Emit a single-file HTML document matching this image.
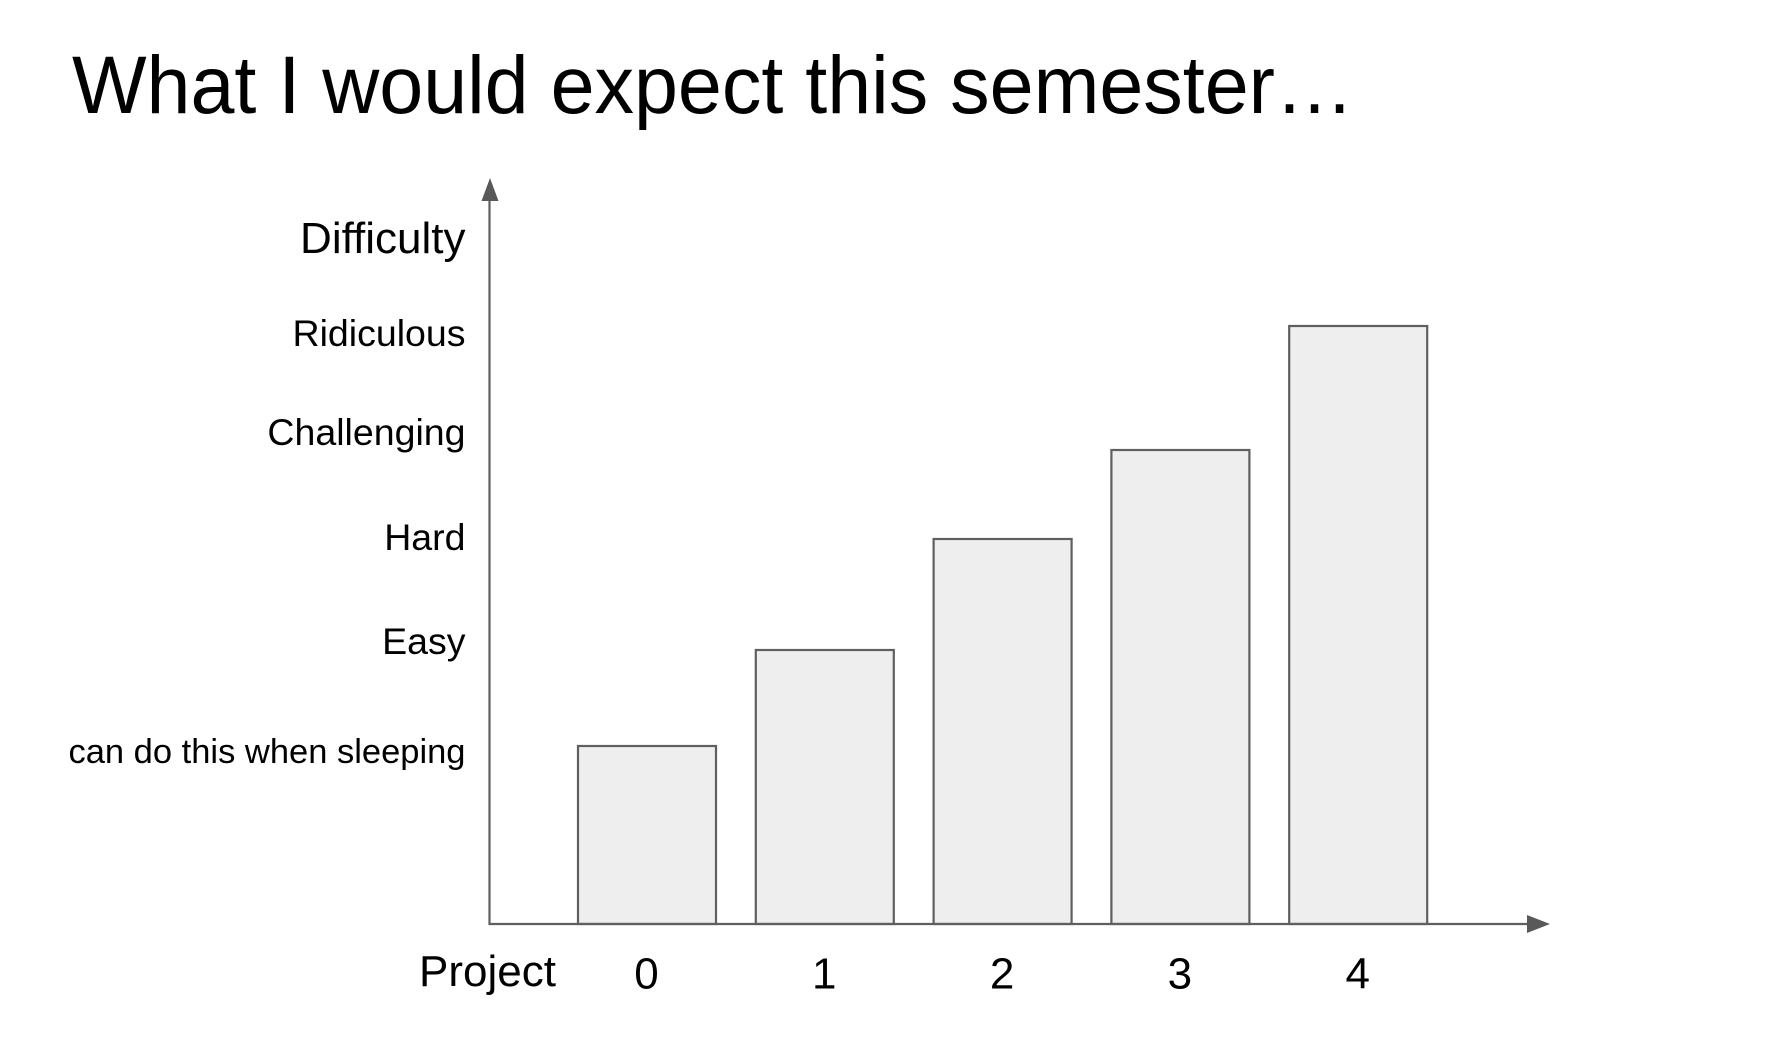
<!DOCTYPE html>
<html lang="en">
<head>
<meta charset="utf-8">
<title>What I would expect this semester…</title>
<style>
  html, body { margin: 0; padding: 0; background: #ffffff; }
  body { width: 1780px; height: 1038px; overflow: hidden; }
  svg { display: block; font-family: "Liberation Sans", Arial, sans-serif; }
  text { fill: #000000; }
</style>
</head>
<body>
<svg id="chart" width="1780" height="1038" viewBox="0 0 1780 1038" xmlns="http://www.w3.org/2000/svg">
  <text x="72" y="113" font-size="82" textLength="1282" lengthAdjust="spacingAndGlyphs">What I would expect this semester…</text>
  <text x="465.5" y="253" font-size="44" text-anchor="end">Difficulty</text>
  <text x="419" y="986" font-size="44">Project</text>
  <g id="bars"></g>
  <g id="axes">
    <line x1="489.5" y1="200" x2="489.5" y2="925" stroke="#5f5f5f" stroke-width="2.2"/>
    <polygon points="490,178 481.5,201 498.5,201" fill="#595959"/>
    <line x1="488.5" y1="924" x2="1530" y2="924" stroke="#5f5f5f" stroke-width="2.2"/>
    <polygon points="1550,924 1527,915 1527,933" fill="#595959"/>
  </g>
  <g id="y-labels"></g>
  <g id="x-labels"></g>
</svg>
<script>
const categories = ["0", "1", "2", "3", "4"];
const difficulty = [1.78, 2.74, 3.85, 4.74, 5.98];
const levelLabels = ["can do this when sleeping", "Easy", "Hard", "Challenging", "Ridiculous"];
const levelValues = [1.61, 2.70, 3.74, 4.79, 5.78];

const SVG_NS = "http://www.w3.org/2000/svg";
const baseY = 924;
const unitY = 100;
const bandStart = 578;
const bandStep = 177.8;
const barWidth = 138;

function yScale(v) { return baseY - v * unitY; }
function xLeft(i) { return bandStart + i * bandStep; }
function xCenter(i) { return xLeft(i) + barWidth / 2 - 0.5; }

const barsGroup = document.getElementById("bars");
categories.forEach(function (cat, i) {
  const rect = document.createElementNS(SVG_NS, "rect");
  
  
  rect.setAttribute("x", xLeft(i));
  rect.setAttribute("y", yScale(difficulty[i]));
  rect.setAttribute("width", barWidth);
  rect.setAttribute("height", baseY - yScale(difficulty[i]));
  rect.setAttribute("fill", "#eeeeee");
  rect.setAttribute("stroke", "#5f5f5f");
  rect.setAttribute("stroke-width", "2.2");
  barsGroup.appendChild(rect);
});

const xLabels = document.getElementById("x-labels");
categories.forEach(function (cat, i) {
  const t = document.createElementNS(SVG_NS, "text");
  
  
  t.setAttribute("x", xCenter(i));
  t.setAttribute("y", 988.5);
  t.setAttribute("font-size", "44");
  t.setAttribute("text-anchor", "middle");
  t.textContent = cat;
  xLabels.appendChild(t);
});

const yLabels = document.getElementById("y-labels");
levelLabels.forEach(function (label, i) {
  const t = document.createElementNS(SVG_NS, "text");
  
  
  t.setAttribute("x", 465.5);
  t.setAttribute("y", yScale(levelValues[i]));
  t.setAttribute("font-size", i === 0 ? "34.5" : "37.5");
  t.setAttribute("text-anchor", "end");
  t.textContent = label;
  yLabels.appendChild(t);
});
</script>
</body>
</html>
